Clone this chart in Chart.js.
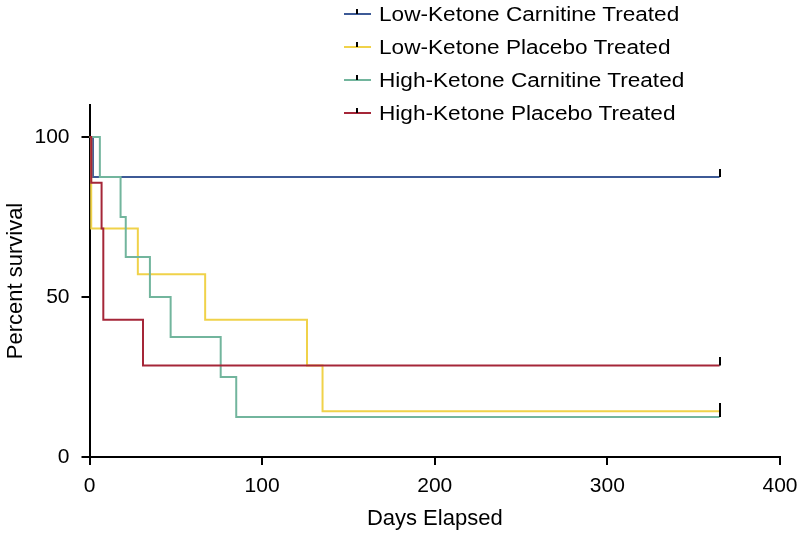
<!DOCTYPE html>
<html>
<head>
<meta charset="utf-8">
<script src="https://cdn.jsdelivr.net/npm/chart.js@4.4.1/dist/chart.umd.min.js"></script>
<style>
  html, body { margin: 0; padding: 0; background: #fff; }
  #wrap { position: relative; width: 799px; height: 533px; }
  #legend { position: absolute; left: 344px; top: -2px; font-family: 'Liberation Sans', Arial, sans-serif; font-size: 20px; color: #000; }
  .row { position: relative; height: 33px; width: 420px; }
  .sym { position: absolute; left: 0; top: 15px; width: 27px; height: 2px; }
  .tick { position: absolute; left: 12px; top: 11px; width: 2px; height: 5px; background: #000; }
  .txt { position: absolute; left: 35px; top: 5px; line-height: 22px; white-space: nowrap; transform: scaleX(1.13); transform-origin: left center; }
</style>
</head>
<body>
<div id="wrap">
  <canvas id="myChart" width="799" height="533"></canvas>
  <div id="legend"></div>
</div>
<script>
// Kaplan-Meier steps (day of event, % surviving after it)
const lowCarnDays = [0, 2, 365];
const lowCarnSurv = [100, 87.5, 87.5];
const lowPlacDays = [0, 1, 28, 67, 126, 135, 365];
const lowPlacSurv = [100, 71.4, 57.1, 42.9, 28.6, 14.3, 14.3];
const highCarnDays = [0, 6, 18, 21, 35, 47, 76, 85, 365];
const highCarnSurv = [100, 87.5, 75, 62.5, 50, 37.5, 25, 12.5, 12.5];
const highPlacDays = [0, 1, 7, 8, 31, 365];
const highPlacSurv = [100, 85.7, 71.4, 42.9, 28.6, 28.6];

const seriesNames = ['Low-Ketone Carnitine Treated', 'Low-Ketone Placebo Treated', 'High-Ketone Carnitine Treated', 'High-Ketone Placebo Treated'];
const seriesColors = ['#3d5a96', '#f0d24a', '#72b59d', '#a52638'];
const xTicks = [0, 100, 200, 300, 400];
const yTicks = [0, 50, 100];

const days = [lowCarnDays, lowPlacDays, highCarnDays, highPlacDays];
const surv = [lowCarnSurv, lowPlacSurv, highCarnSurv, highPlacSurv];
const drawOrder = [3, 2, 1, 0]; // red on top, then green, yellow, blue

// censor mark: black tick standing up from the point
const censor = document.createElement('canvas');
censor.width = 2;
censor.height = 16;
const cctx = censor.getContext('2d');
cctx.fillStyle = '#000';
cctx.fillRect(0, 0, 2, 8);

const font = "'Liberation Sans', Arial, sans-serif";

let ctx = document.getElementById('myChart').getContext('2d');
let myChart = new Chart(ctx, {
    type: 'line',
    data: {
        datasets: seriesNames.map(function(name, i) {
            return {
                label: name,
                data: days[i].map(function(d, j) { return { x: d, y: surv[i][j] }; }),
                borderColor: seriesColors[i],
                borderWidth: 2,
                stepped: true,
                fill: false,
                order: drawOrder[i],
                pointStyle: censor,
                pointRadius: function(c) { return c.dataIndex === days[i].length - 1 ? 5 : 0; }
            };
        })
    },
    options: {
        responsive: false,
        animation: false,
        events: [],
        layout: { padding: { top: 105, right: 19, left: 0, bottom: 0 } },
        plugins: {
            legend: { display: false },
            tooltip: { enabled: false }
        },
        scales: {
            x: {
                type: 'linear',
                min: 0,
                max: 400,
                afterBuildTicks: function(s) { s.ticks = xTicks.map(function(v) { return { value: v }; }); },
                afterFit: function(s) { s.height = 76; s.paddingLeft = 0; s.paddingRight = 0; },
                ticks: { color: '#000', font: { family: font, size: 21 }, padding: 9, maxRotation: 0 },
                grid: { display: true, drawOnChartArea: false, drawTicks: true, tickLength: 8, color: '#000', lineWidth: 2 },
                border: { color: '#000', width: 2 },
                title: { display: true, text: 'Days Elapsed', color: '#000', font: { family: font, size: 22 }, padding: { top: 0, bottom: 1 } }
            },
            y: {
                type: 'linear',
                min: 0,
                max: 110,
                afterBuildTicks: function(s) { s.ticks = yTicks.map(function(v) { return { value: v }; }); },
                afterFit: function(s) { s.width = 89.5; },
                ticks: { color: '#000', font: { family: font, size: 21 }, padding: 12 },
                grid: { display: true, drawOnChartArea: false, drawTicks: true, tickLength: 8, color: '#000', lineWidth: 2 },
                border: { color: '#000', width: 2 },
                title: { display: true, text: 'Percent survival', color: '#000', font: { family: font, size: 22 }, padding: { top: 3, bottom: 0 } }
            }
        }
    }
});

// html legend
const legend = document.getElementById('legend');
seriesNames.forEach(function(name, i) {
    const row = document.createElement('div');
    row.className = 'row';
    row.innerHTML = '<span class="sym" style="background:' + seriesColors[i] + '"></span><span class="tick"></span><span class="txt"></span>';
    row.querySelector('.txt').textContent = name;
    legend.appendChild(row);
});
</script>
</body>
</html>
